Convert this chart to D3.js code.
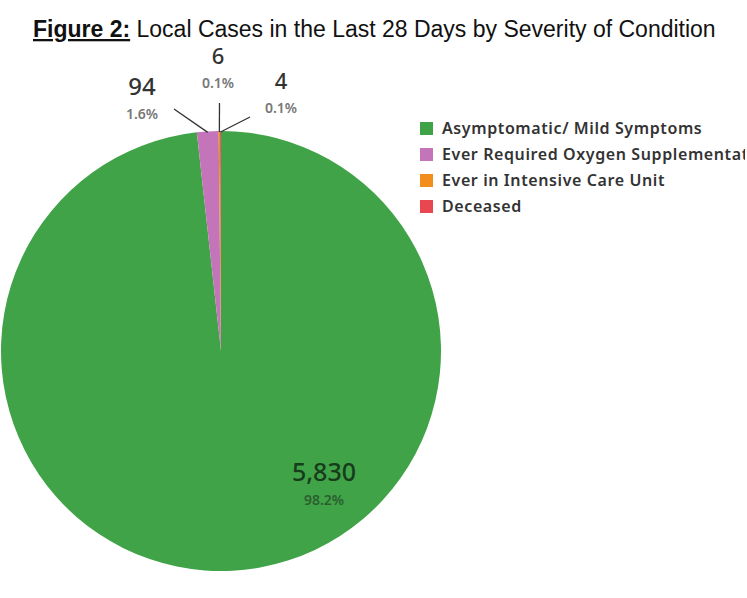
<!DOCTYPE html>
<html>
<head>
<meta charset="utf-8">
<script src="https://cdn.jsdelivr.net/npm/d3@7"></script>
<style>
  body { margin: 0; background: #fff; }
  svg { display: block; }
</style>
</head>
<body>
<div id="chart"></div>
<script>
// Values
let categories = ["Asymptomatic/ Mild Symptoms", "Ever Required Oxygen Supplementation", "Ever in Intensive Care Unit", "Deceased"]
let values = [5830, 94, 6, 4]
let colors = ["#40a347", "#c474b9", "#f28e1c", "#e8474f"]

// where each slice's label sits, relative to the pie centre
let labelLayout = [
  {dx: 103, dy: 130, line: false, numColor: "#173c1b", pctColor: "#2b5f2f"},
  {dx: -79, dy: -256, line: true, lx: -47, ly: -242, numColor: "#333", pctColor: "#777"},
  {dx: -3, dy: -287, line: true, lx: -1.5, ly: -248, numColor: "#333", pctColor: "#777"},
  {dx: 60, dy: -262, line: true, lx: 29, ly: -234, numColor: "#333", pctColor: "#777"}
]

let width = 747, height = 598
let cx = 221, cy = 351, radius = 220

let svg = d3.select("#chart").append("svg")
  .attr("width", width)
  .attr("height", height)

// clip for the legend, the long label runs off the right edge
svg.append("defs").append("clipPath")
  .attr("id", "legend-clip")
  .append("rect")
  .attr("x", 0).attr("y", 0)
  .attr("width", 745).attr("height", height)

// TITLE
let title = svg.append("text")
  .attr("x", 33)
  .attr("y", 37)
  .style("font-family", "'Liberation Sans', Arial, sans-serif")
  .style("font-size", "23px")
  .style("fill", "#111")
title.append("tspan")
  .style("font-weight", "bold")
  .style("text-decoration", "underline")
  .text("Figure 2:")
title.append("tspan")
  .text(" Local Cases in the Last 28 Days by Severity of Condition")

// PIE
let data = categories.map((c, i) => ({name: c, value: values[i], color: colors[i], layout: labelLayout[i]}))
let total = d3.sum(values)
let pct = d3.format(".1%")
let num = d3.format(",")

let pie = d3.pie().sort(null).value(d => d.value)
let arc = d3.arc().innerRadius(0).outerRadius(radius)
let edgeArc = d3.arc().innerRadius(radius).outerRadius(radius)

let g = svg.append("g")
  .attr("transform", "translate(" + cx + "," + cy + ")")

let arcs = pie(data)

g.selectAll(".slice")
  .data(arcs)
  .enter().append("path")
  .attr("class", "slice")
  .attr("d", arc)
  .attr("fill", d => d.data.color)

// leader lines for the tiny slices
g.selectAll(".leader")
  .data(arcs.filter(d => d.data.layout.line))
  .enter().append("line")
  .attr("class", "leader")
  .attr("x1", d => d.data.layout.lx)
  .attr("y1", d => d.data.layout.ly)
  .attr("x2", d => edgeArc.centroid(d)[0])
  .attr("y2", d => edgeArc.centroid(d)[1] + 1)
  .attr("stroke", "#333")
  .attr("stroke-width", 1.3)

let labels = g.selectAll(".label")
  .data(arcs)
  .enter().append("g")
  .attr("class", "label")
  .attr("transform", d => "translate(" + d.data.layout.dx + "," + d.data.layout.dy + ")")
  .style("font-family", "'Noto Sans', 'Open Sans', sans-serif")
  .attr("text-anchor", "middle")

labels.append("text")
  .attr("y", 0)
  .style("font-size", (d, i) => i === 0 ? "25px" : (i === 1 ? "24px" : "22px"))
  .style("font-weight", 500)
  .style("fill", d => d.data.layout.numColor)
  .text(d => num(d.data.value))

labels.append("text")
  .attr("y", 24)
  .style("font-size", "14px")
  .style("font-weight", 600)
  .style("fill", d => d.data.layout.pctColor)
  .text(d => pct(d.data.value / total))

// LEGEND
let legend = svg.append("g")
  .attr("clip-path", "url(#legend-clip)")
  .append("g")
  .attr("transform", "translate(420,122)")
  .style("font-family", "'Noto Sans', 'Open Sans', sans-serif")

let items = legend.selectAll(".item")
  .data(data)
  .enter().append("g")
  .attr("class", "item")
  .attr("transform", (d, i) => "translate(0," + i * 26 + ")")

items.append("rect")
  .attr("width", 13)
  .attr("height", 13)
  .attr("fill", d => d.color)

items.append("text")
  .attr("x", 22)
  .attr("y", 12)
  .style("font-size", "16px")
  .style("font-weight", 600)
  .style("letter-spacing", "0.6px")
  .style("fill", "#333")
  .text(d => d.name)
</script>
</body>
</html>
